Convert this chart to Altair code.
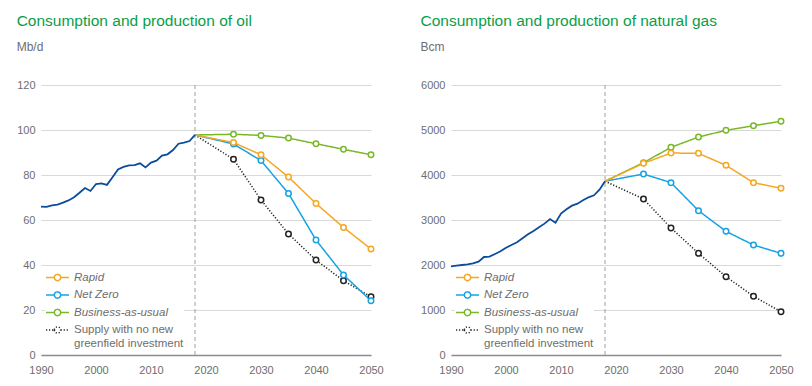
import altair as alt
import pandas as pd

FONT = "Liberation Sans"
GREY_TXT = "#6e6e6e"
TITLE_GREEN = "#0a9e46"
HIST_BLUE = "#0b4c9c"
ORANGE = "#f5a623"
BLUE = "#18a2e3"
GREEN = "#7ab828"
BLACK = "#222222"

years_hist = list(range(1990, 2019))
oil_hist = [65.9, 65.8, 66.5, 66.8, 67.7, 68.7, 70.1, 72.1, 74.2, 72.9,
            76.0, 76.3, 75.6, 79.0, 82.5, 83.6, 84.3, 84.4, 85.2, 83.4,
            85.5, 86.4, 88.6, 89.2, 91.1, 93.9, 94.4, 95.1, 97.8]
gas_hist = [1970, 1985, 2000, 2015, 2037, 2074, 2178, 2185, 2244, 2304,
            2385, 2444, 2504, 2593, 2681, 2756, 2837, 2919, 3022, 2941,
            3141, 3237, 3319, 3363, 3437, 3504, 3548, 3674, 3862]

scen_years = [2018, 2025, 2030, 2035, 2040, 2045, 2050]
scenarios = ["Rapid", "Net Zero", "Business-as-usual",
             "Supply with no new greenfield investment"]

oil_rapid = [97.8, 94.4, 89.0, 79.1, 67.3, 56.7, 47.1]
oil_netzero = [97.8, 93.8, 86.4, 71.8, 51.1, 35.6, 24.1]
oil_bau = [97.8, 98.1, 97.6, 96.4, 93.9, 91.4, 89.0]
oil_supply = [97.8, 87.0, 68.9, 53.8, 42.2, 33.0, 25.9]

gas_rapid = [3862, 4259, 4489, 4481, 4215, 3830, 3704]
gas_netzero = [3862, 4022, 3830, 3207, 2748, 2444, 2259]
gas_bau = [3862, 4274, 4615, 4844, 4993, 5096, 5193]
gas_supply = [3862, 3467, 2822, 2259, 1741, 1304, 963]

SYM = ("M-2,0L-0.55,0M0.55,0L2,0"
       "M-0.55,0A0.55,0.55,0,1,0,0.55,0A0.55,0.55,0,1,0,-0.55,0Z")
LAST = scenarios[3]
# drawing order: bottom to top
draw_order = [scenarios[3], scenarios[2], scenarios[1], scenarios[0]]


def panel(title, unit, hist, scen_vals, ymax, ystep):
    hist_df = pd.DataFrame({"year": years_hist, "value": hist})
    rows = []
    for name, vals in zip(scenarios, scen_vals):
        for yr, v in zip(scen_years, vals):
            rows.append({"year": yr, "value": v, "scenario": name})
    scen_df = pd.DataFrame(rows)

    xs = alt.Scale(domain=[1990, 2050], nice=False, zero=False)
    ys = alt.Scale(domain=[0, ymax], nice=False)
    xax = alt.Axis(values=list(range(1990, 2051, 10)), format="d", grid=False,
                   ticks=False, domain=True, domainColor="#8c8c8c",
                   domainWidth=1.5, labelPadding=9, title=None,
                   labelFlush=False, labelFontSize=11, labelColor=GREY_TXT,
                   labelFont=FONT)
    yax = alt.Axis(values=list(range(0, ymax + 1, ystep)), format="d",
                   grid=True, gridColor="#d9d9d9", gridWidth=1, ticks=False,
                   domain=False, labelPadding=6, title=None, labelFontSize=11,
                   labelColor=GREY_TXT, labelFont=FONT)
    X = alt.X("year:Q", scale=xs, axis=xax)
    Y = alt.Y("value:Q", scale=ys, axis=yax)

    cscale = alt.Scale(domain=scenarios, range=[ORANGE, BLUE, GREEN, BLACK])
    dscale = alt.Scale(domain=scenarios,
                       range=[[1, 0], [1, 0], [1, 0], [1.2, 1.8]])
    leg = alt.Legend(
        title=None, orient="none", legendX=4, legendY=186,
        symbolType=SYM, symbolSize=132, symbolStrokeWidth=1.5,
        symbolOffset=6, labelOffset=10, labelFontSize=11.5,
        labelColor=GREY_TXT, labelFont=FONT,
        labelFontStyle={"expr": f"datum.label == '{LAST}' ? 'normal' : 'italic'"},
        labelExpr=f"datum.label == '{LAST}' ? ['Supply with no new', 'greenfield investment'] : datum.label",
        rowPadding=4.5, fillColor="white", padding=0, labelLimit=300,
    )

    rule = alt.Chart(pd.DataFrame({"year": [2018]})).mark_rule(
        color="#a0a0a0", strokeDash=[4, 3], strokeWidth=1
    ).encode(x=X)
    hist_line = alt.Chart(hist_df).mark_line(
        color=HIST_BLUE, strokeWidth=1.8
    ).encode(x=X, y=Y)

    layers = [rule]
    for name in draw_order:
        line = alt.Chart(scen_df).transform_filter(
            alt.datum.scenario == name
        ).mark_line(strokeWidth=1.5).encode(
            x=X, y=Y,
            color=alt.Color("scenario:N", scale=cscale, legend=leg),
            strokeDash=alt.StrokeDash("scenario:N", scale=dscale, legend=leg),
        )
        pts = alt.Chart(scen_df).transform_filter(
            (alt.datum.scenario == name) & (alt.datum.year > 2018)
        ).mark_point(
            shape="circle", size=30, strokeWidth=1.5, opacity=1
        ).encode(
            x=X, y=Y,
            stroke=alt.Stroke("scenario:N", scale=cscale, legend=None),
            fill=alt.value("white"),
        )
        layers += [line, pts]
    layers.append(hist_line)

    return alt.layer(*layers).properties(
        width=330, height=270,
        title=alt.TitleParams(
            text=title, subtitle=unit, anchor="start", frame="bounds",
            fontSize=15.5, fontWeight="normal", color=TITLE_GREEN, font=FONT,
            subtitleFontSize=12, subtitleColor=GREY_TXT, subtitleFont=FONT,
            subtitlePadding=13, offset=26,
        ),
    )


left = panel("Consumption and production of oil", "Mb/d", oil_hist,
             [oil_rapid, oil_netzero, oil_bau, oil_supply], 120, 20)
right = panel("Consumption and production of natural gas", "Bcm", gas_hist,
              [gas_rapid, gas_netzero, gas_bau, gas_supply], 6000, 1000)

chart = alt.hconcat(left, right, spacing=36).properties(
    padding={"left": 8, "top": 5, "right": 5, "bottom": 5}
).configure_view(stroke=None).resolve_scale(color="independent",
                                            strokeDash="independent",
                                            stroke="independent")

chart.save("out.html", embed_options={"renderer": "svg", "actions": False})
